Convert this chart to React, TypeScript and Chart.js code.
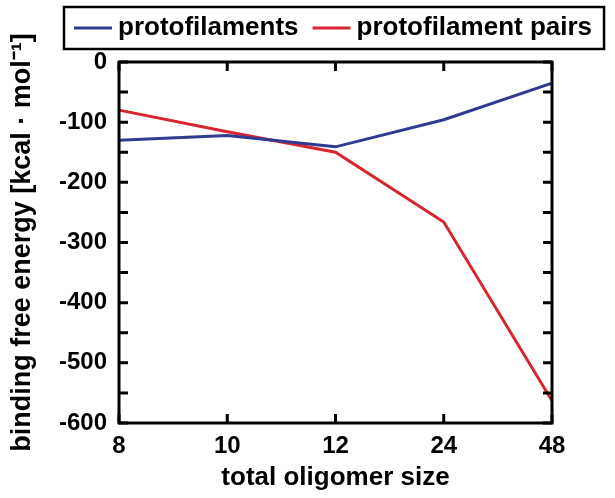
import React, { useEffect, useRef } from 'react';
import { Chart, registerables } from 'chart.js';

Chart.register(...registerables);

// Oligomer sizes (categorical, equally spaced on the axis)
const oligomerSizes = ['8', '10', '12', '24', '48'];

// Binding free energy [kcal/mol]
const protofilaments = [-130, -122, -141, -96, -35];
const protofilamentPairs = [-80, -116, -150, -266, -563];

const seriesLabels = ['protofilaments', 'protofilament pairs'];
const seriesColors = ['#303a8e', '#d7262f'];

const FONT_FAMILY = '"Liberation Sans", Arial, Helvetica, sans-serif';

// Boxed legend drawn above the plot, like the original figure
const boxedLegend = {
    id: 'boxedLegend',
    afterDraw(chart: any) {
        const { ctx } = chart;
        ctx.save();
        ctx.font = `bold 26px ${FONT_FAMILY}`;
        ctx.textBaseline = 'middle';
        ctx.textAlign = 'left';
        const y = 28;
        let x = 74;
        let textEnd = x;
        chart.data.datasets.forEach((ds: any) => {
            ctx.strokeStyle = ds.borderColor;
            ctx.lineWidth = 3;
            ctx.beginPath();
            ctx.moveTo(x, y);
            ctx.lineTo(x + 38, y);
            ctx.stroke();
            x += 44;
            ctx.fillStyle = '#000';
            ctx.fillText(ds.label, x, y);
            textEnd = x + ctx.measureText(ds.label).width;
            x = textEnd + 14;
        });
        ctx.strokeStyle = '#000';
        ctx.lineWidth = 2.5;
        ctx.strokeRect(64, 7, textEnd + 12 - 64, 42);
        ctx.restore();
    },
};

// Closed frame with inward-pointing ticks on all four sides
const tickFrame = {
    id: 'tickFrame',
    afterDatasetsDraw(chart: any) {
        const { ctx, chartArea, scales } = chart;
        const { left, right, top, bottom } = chartArea;
        const xs = scales.x;
        const ys = scales.y;
        const len = 9;
        ctx.save();
        ctx.strokeStyle = '#000';
        ctx.lineWidth = 3;
        ctx.beginPath();
        xs.ticks.forEach((_: any, i: number) => {
            const px = xs.getPixelForTick(i);
            ctx.moveTo(px, bottom);
            ctx.lineTo(px, bottom - len);
            ctx.moveTo(px, top);
            ctx.lineTo(px, top + len);
        });
        for (let v = ys.min; v <= ys.max; v += 50) {
            const py = ys.getPixelForValue(v);
            ctx.moveTo(left, py);
            ctx.lineTo(left + len, py);
            ctx.moveTo(right, py);
            ctx.lineTo(right - len, py);
        }
        ctx.stroke();
        ctx.strokeRect(left, top, right - left, bottom - top);
        ctx.restore();
    },
};

const EnergyChart: React.FC = () => {
    const canvasRef = useRef<HTMLCanvasElement>(null);
    const chartRef = useRef<Chart | null>(null);

    useEffect(() => {
        if (!canvasRef.current) return;
        if (chartRef.current) chartRef.current.destroy();

        const ctx = canvasRef.current.getContext('2d');
        if (!ctx) return;

        const seriesValues = [protofilaments, protofilamentPairs];

        chartRef.current = new Chart(ctx, {
            type: 'line',
            data: {
                labels: oligomerSizes,
                datasets: seriesValues.map((values, i) => ({
                    label: seriesLabels[i],
                    data: values,
                    borderColor: seriesColors[i],
                    backgroundColor: seriesColors[i],
                    borderWidth: 3,
                    pointRadius: 0,
                    tension: 0,
                    fill: false,
                })),
            },
            options: {
                responsive: true,
                maintainAspectRatio: false,
                animation: false,
                layout: { padding: { top: 62, right: 63, left: 0, bottom: 0 } },
                plugins: {
                    legend: { display: false },
                    tooltip: { enabled: false },
                },
                scales: {
                    x: {
                        type: 'category',
                        offset: false,
                        grid: { display: false, drawTicks: false },
                        border: { display: false },
                        ticks: {
                            color: '#000',
                            padding: 9,
                            maxRotation: 0,
                            font: { family: FONT_FAMILY, size: 24, weight: 'bold' },
                        },
                        title: {
                            display: true,
                            text: 'total oligomer size',
                            color: '#000',
                            padding: { top: 0, bottom: 5 },
                            font: { family: FONT_FAMILY, size: 26, weight: 'bold' },
                        },
                        afterFit: (scale: any) => {
                            scale.height = 75;
                        },
                    },
                    y: {
                        min: -600,
                        max: 0,
                        grid: { display: false, drawTicks: false },
                        border: { display: false },
                        ticks: {
                            stepSize: 100,
                            color: '#000',
                            padding: 12,
                            font: { family: FONT_FAMILY, size: 24, weight: 'bold' },
                        },
                        title: {
                            display: true,
                            text: 'binding free energy [kcal · mol⁻¹]',
                            color: '#000',
                            padding: { top: 6, bottom: 0 },
                            font: { family: FONT_FAMILY, size: 27, weight: 'bold' },
                        },
                        afterFit: (scale: any) => {
                            scale.width = 119;
                        },
                    },
                },
            },
            plugins: [tickFrame, boxedLegend],
        });

        return () => {
            if (chartRef.current) chartRef.current.destroy();
            chartRef.current = null;
        };
    }, []);

    return (
        <div style={{ position: 'relative', width: 615, height: 498, background: '#fff' }}>
            <canvas ref={canvasRef}></canvas>
        </div>
    );
};

export default function App() {
    useEffect(() => {
        document.body.style.margin = '0';
    }, []);
    return <EnergyChart />;
}
